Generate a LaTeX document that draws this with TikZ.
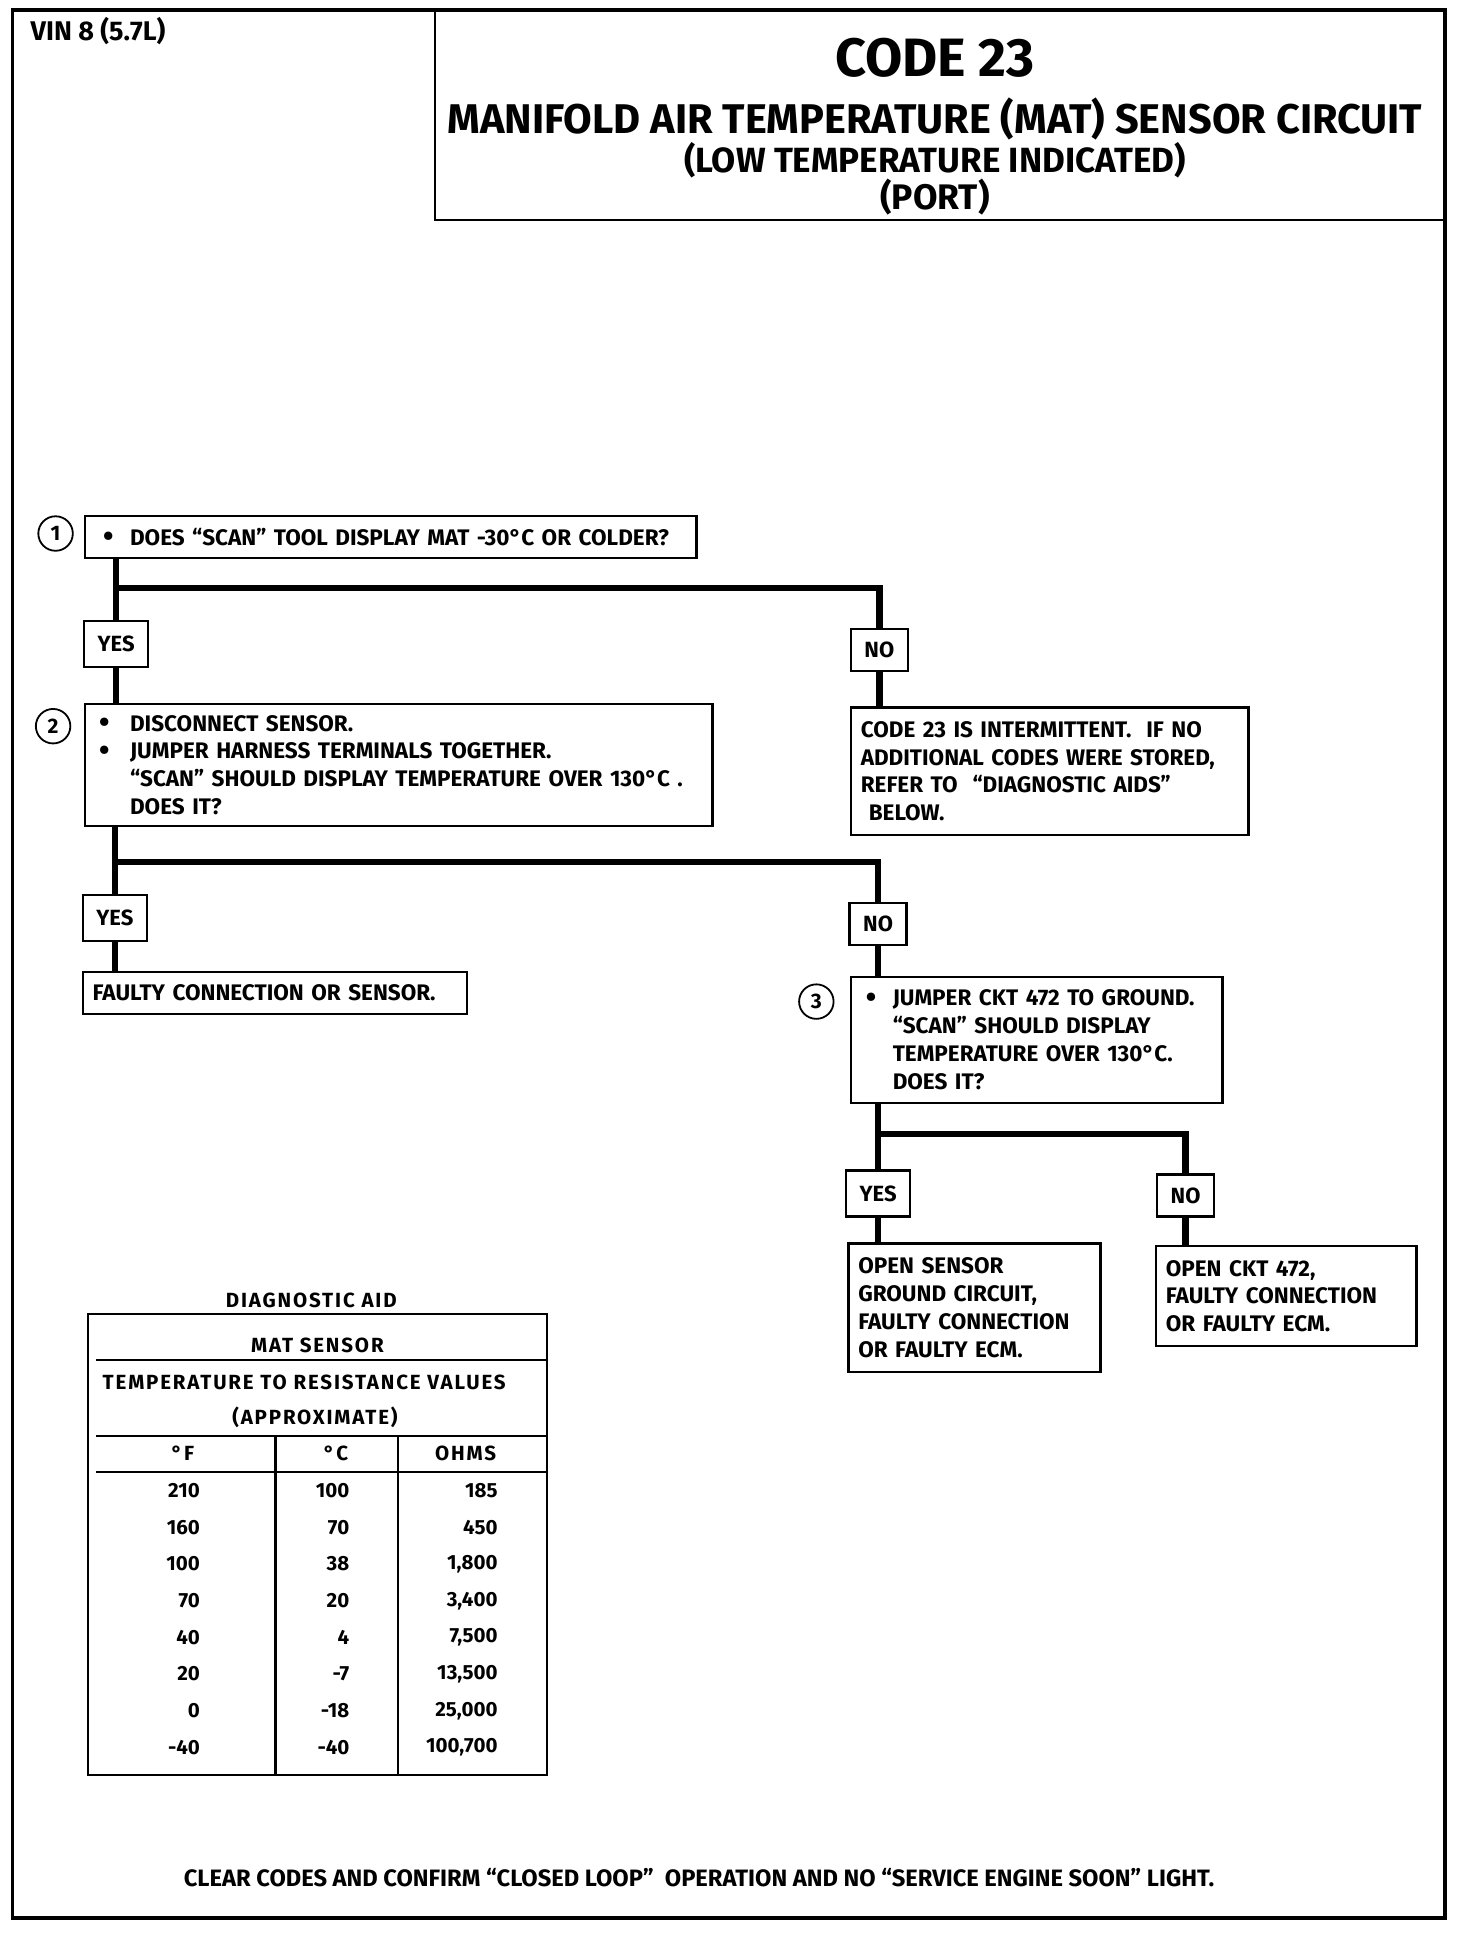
\documentclass[tikz,border=0pt]{standalone}
\usepackage{fontspec}
\setmainfont{Fira Sans}
\newfontfamily\titlefont{Fira Sans}
\newfontfamily\tablefont{Fira Sans}
\newfontfamily\tablespaced{Fira Sans}[LetterSpace=9]
\newcommand{\dotmark}{\raisebox{-1.5pt}{\fontsize{30}{30}\selectfont\textbullet}}

\begin{document}
\begin{tikzpicture}[x=1.235pt,y=-1.235pt,
    frame/.style={line width=3.5pt},
    title/.style={anchor=base,inner sep=0pt,font=\titlefont\bfseries\fontsize{#1}{#1}\selectfont},
    step box/.style={draw,line width=2.4pt,anchor=north west,align=left,
        inner xsep=9.88pt,inner ysep=0pt,font=\bfseries\fontsize{22.5}{27.8}\selectfont},
    answer box/.style={draw,line width=2.4pt,inner sep=0pt,
        font=\bfseries\fontsize{22}{24}\selectfont},
    yes box/.style={answer box,minimum width=64pt,minimum height=46pt},
    no box/.style={answer box,minimum width=57pt,minimum height=42pt},
    num/.style={circle,draw,line width=1.8pt,minimum size=34.5pt,inner sep=0pt,
        font=\bfseries\fontsize{21}{22}\selectfont},
    flow/.style={line width=6.5pt},
    grid/.style={line width=2.2pt},
    cell/.style={inner sep=0pt,font=\tablefont\bfseries\fontsize{20.5}{22}\selectfont},
    head cell/.style={inner sep=0pt,font=\tablespaced\bfseries\fontsize{20.5}{22}\selectfont}]

  \useasboundingbox (0,0) rectangle (1191.9,1567.6);

  % page frame and heading
  \draw[frame] (10,8) rectangle (1170,1553);
  \draw[grid] (352,8) rectangle (1170,178);
  \node[anchor=west,font=\bfseries\fontsize{27}{30}\selectfont] (vin) at (22,25) {VIN 8 (5.7L)};
  \node[title=54] (code) at (757,62) {CODE 23};
  \node[title=41.5,text depth=0pt] (circuit) at (757,108.5) {MANIFOLD AIR TEMPERATURE (MAT) SENSOR CIRCUIT};
  \node[title=35,text depth=0pt] (low) at (757,140) {(LOW TEMPERATURE INDICATED)};
  \node[title=35.5] (port) at (757,170) {(PORT)};

  % steps
  \node[step box,minimum width=611.3pt,minimum height=42pt,text width=591.6pt] (q1) at (68,417)
      {\hspace*{8pt}\makebox[27pt][l]{\dotmark}DOES “SCAN” TOOL DISPLAY MAT -30°C OR COLDER?};
  \node[num] (n1) at (45,432) {1};

  \node[yes box] (yes1) at (94,521.5) {YES};
  \node[no box] (no1) at (712,526.5) {NO};

  \node[step box,minimum width=627.4pt,minimum height=122.3pt,text width=607.6pt] (q2) at (68,569)
      {\hspace*{4pt}\makebox[31pt][l]{\dotmark}DISCONNECT SENSOR.\\
       \hspace*{4pt}\makebox[31pt][l]{\dotmark}JUMPER HARNESS TERMINALS TOGETHER.\\
       \hspace*{35pt}“SCAN” SHOULD DISPLAY TEMPERATURE OVER 130°C .\\
       \hspace*{35pt}DOES IT?};
  \node[num] (n2) at (43,588) {2};

  \node[step box,minimum width=397.7pt,minimum height=127.2pt,text width=377.9pt] (int) at (688,572)
      {CODE 23 IS INTERMITTENT. \ IF NO\\
       ADDITIONAL CODES WERE STORED,\\
       REFER TO \ “DIAGNOSTIC AIDS”\\
       \hspace*{8pt}BELOW.};

  \node[yes box] (yes2) at (93,743.5) {YES};
  \node[no box] (no2) at (711,748) {NO};

  \node[step box,minimum width=384.1pt,minimum height=42pt,text width=364.3pt] (fault) at (66,786)
      {FAULTY CONNECTION OR SENSOR.};

  \node[step box,minimum width=371.7pt,minimum height=126pt,text width=352pt] (q3) at (688,790)
      {\hspace*{5pt}\makebox[27pt][l]{\dotmark}JUMPER CKT 472 TO GROUND.\\
       \hspace*{32pt}“SCAN” SHOULD DISPLAY\\
       \hspace*{32pt}TEMPERATURE OVER 130°C.\\
       \hspace*{32pt}DOES IT?};
  \node[num] (n3) at (661,811) {3};

  \node[yes box] (yes3) at (711,966.5) {YES};
  \node[no box] (no3) at (960,968) {NO};

  \node[step box,minimum width=251.9pt,minimum height=128.4pt,text width=232.2pt] (open1) at (686,1006)
      {OPEN SENSOR\\ GROUND CIRCUIT,\\ FAULTY CONNECTION\\ OR FAULTY ECM.};
  \node[step box,minimum width=260.6pt,minimum height=100pt,text width=240.8pt] (open2) at (935,1008)
      {OPEN CKT 472,\\ FAULTY CONNECTION\\ OR FAULTY ECM.};

  % connectors
  \coordinate (j1) at (94,476);
  \coordinate (j2) at (94,698);
  \coordinate (j3) at (710,918);
  \draw[flow] (q1.south -| yes1) -- (yes1);
  \draw[flow] (j1) -| (no1);
  \draw[flow] (yes1) -- (yes1 |- q2.north);
  \draw[flow] (no1) -- (no1 |- int.north);
  \draw[flow] (q2.south -| yes2) -- (yes2);
  \draw[flow] (j2) -| (no2);
  \draw[flow] (yes2) -- (yes2 |- fault.north);
  \draw[flow] (no2) -- (no2 |- q3.north);
  \draw[flow] (q3.south -| yes3) -- (yes3);
  \draw[flow] (j3) -| (no3);
  \draw[flow] (yes3) -- (yes3 |- open1.north);
  \draw[flow] (no3) -- (no3 |- open2.north);

  % diagnostic aid table
  \node[head cell] (aid) at (252,1053) {DIAGNOSTIC AID};
  \draw[grid] (71,1064) rectangle (443,1437);
  \draw[grid] (78,1101) -- (443,1101);
  \draw[grid] (78,1163) -- (443,1163);
  \draw[grid] (78,1192) -- (443,1192);
  \draw[grid] (223,1163) -- (223,1437);
  \draw[grid] (322,1163) -- (322,1437);
  \node[head cell] (mat) at (257,1089) {MAT SENSOR};
  \node[head cell,anchor=west] (values) at (83,1119) {TEMPERATURE TO RESISTANCE VALUES};
  \node[head cell] (approx) at (255,1148) {(APPROXIMATE)};
  \node[head cell] (hf) at (148,1177) {°F};
  \node[head cell] (hc) at (272,1177) {°C};
  \node[head cell] (ho) at (377,1177) {OHMS};
  \foreach \degf/\degc/\ohms [count=\i from 0] in
      {210/100/185,160/70/450,100/38/1{,}800,70/20/3{,}400,
       40/4/7{,}500,20/-7/13{,}500,0/-18/25{,}000,-40/-40/100{,}700}
  {
    \node[cell,anchor=east] (f\i) at (162,1207+29.7*\i) {\degf};
    \node[cell,anchor=east] (c\i) at (283,1207+29.7*\i) {\degc};
    \node[cell,anchor=east] (o\i) at (403,1207+29.7*\i) {\ohms};
  }

  \node[font=\bfseries\fontsize{23.7}{26}\selectfont] (clear) at (566,1520)
      {CLEAR CODES AND CONFIRM “CLOSED LOOP” \ OPERATION AND NO “SERVICE ENGINE SOON” LIGHT.};
\end{tikzpicture}
\end{document}
